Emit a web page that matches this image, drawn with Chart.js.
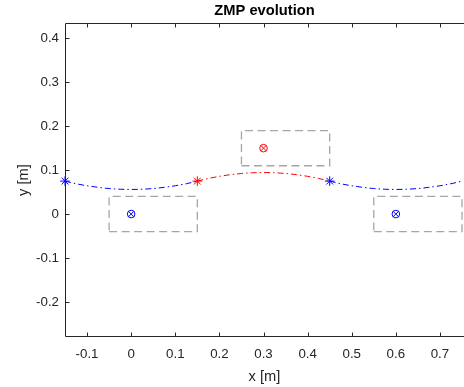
<!DOCTYPE html>
<html><head><meta charset="utf-8">
<script src="https://cdn.jsdelivr.net/npm/chart.js@4/dist/chart.umd.min.js"></script>
<style>html,body{margin:0;padding:0;background:#fff;}#wrap{width:464px;height:387px;position:relative;}</style>
</head><body><div id="wrap"><canvas id="c" width="464" height="387"></canvas></div>
<script>
// ---- data ----
const xTicks = [-0.1, 0, 0.1, 0.2, 0.3, 0.4, 0.5, 0.6, 0.7];
const xTickLabels = ['-0.1', '0', '0.1', '0.2', '0.3', '0.4', '0.5', '0.6', '0.7'];
const yTicks = [-0.2, -0.1, 0, 0.1, 0.2, 0.3, 0.4];
const yTickLabels = ['-0.2', '-0.1', '0', '0.1', '0.2', '0.3', '0.4'];

// footprint rectangles (dashed gray)
const rectX1 = [-0.05, 0.25, 0.55];
const rectX2 = [0.15, 0.45, 0.75];
const rectY1 = [-0.04, 0.11, -0.04];
const rectY2 = [0.04, 0.19, 0.04];

// footstep ZMP markers
const footX = [0, 0.3, 0.6];
const footY = [0, 0.15, 0];

// trajectory segments
const seg1X = [-0.15, -0.125, -0.1, -0.075, -0.05, -0.025, 0, 0.025, 0.05, 0.075, 0.1, 0.125, 0.15];
const seg1Y = [0.075, 0.069, 0.0644, 0.0608, 0.0581, 0.0565, 0.056, 0.0565, 0.0581, 0.0608, 0.0644, 0.069, 0.075];
const seg2X = [0.15, 0.175, 0.2, 0.225, 0.25, 0.275, 0.3, 0.325, 0.35, 0.375, 0.4, 0.425, 0.45];
const seg2Y = [0.075, 0.081, 0.0858, 0.0896, 0.0923, 0.094, 0.0945, 0.094, 0.0923, 0.0896, 0.0858, 0.081, 0.075];
const seg3X = [0.45, 0.475, 0.5, 0.525, 0.55, 0.575, 0.6, 0.625, 0.65, 0.675, 0.7, 0.725, 0.75];
const seg3Y = [0.075, 0.069, 0.0644, 0.0608, 0.0581, 0.0565, 0.056, 0.0565, 0.0581, 0.0608, 0.0644, 0.069, 0.075];

// switching points (stars)
const starX = [-0.15, 0.15, 0.45];
const starY = [0.075, 0.075, 0.075];

// ---- build ----
const pts = (xs, ys) => xs.map((x, i) => ({x: x, y: ys[i]}));
const BLUE = '#0000ff', RED = '#ff0000', GRAY = '#a6a6a6', AX = '#262626';
const FONT = '"Liberation Sans", Arial, Helvetica, sans-serif';

const datasets = [];
for (let i = 0; i < rectX1.length; i++) {
  datasets.push({
    data: pts([rectX1[i], rectX2[i], rectX2[i], rectX1[i], rectX1[i]],
              [rectY1[i], rectY1[i], rectY2[i], rectY2[i], rectY1[i]]),
    showLine: true, borderColor: GRAY, borderWidth: 1.3, borderDash: [8, 4.5],
    pointRadius: 0, fill: false, tension: 0, clip: 2
  });
}
const segStyle = (xs, ys, col) => ({
  data: pts(xs, ys), showLine: true, borderColor: col, borderWidth: 1,
  borderDash: [6, 3, 1.5, 3], pointRadius: 0, fill: false,
  cubicInterpolationMode: 'monotone'
});
datasets.push(segStyle(seg1X, seg1Y, BLUE));
datasets.push(segStyle(seg2X, seg2Y, RED));
datasets.push(segStyle(seg3X, seg3Y, BLUE));
const markColors = [BLUE, RED, BLUE];
['circle', 'crossRot'].forEach(ps => {
  datasets.push({
    data: pts(footX, footY), showLine: false, pointStyle: ps, pointRadius: 3.8,
    pointBorderColor: markColors, pointBackgroundColor: 'rgba(0,0,0,0)', pointBorderWidth: 1,
    clip: false
  });
});
datasets.push({
  data: pts(starX, starY), showLine: false, pointStyle: 'star', pointRadius: 4.8,
  pointBorderColor: markColors, pointBackgroundColor: 'rgba(0,0,0,0)', pointBorderWidth: 1,
  clip: false
});

const frame = {
  id: 'frame',
  afterDraw(chart) {
    const {ctx, chartArea: a, scales: {x, y}} = chart;
    ctx.save();
    ctx.strokeStyle = AX; ctx.lineWidth = 1;
    const L = Math.round(a.left) + 0.5, B = Math.round(a.bottom) - 0.5, T = Math.round(a.top) + 0.5;
    ctx.beginPath();
    ctx.moveTo(L, T); ctx.lineTo(a.right + 2, T);
    ctx.moveTo(L, T); ctx.lineTo(L, B);
    ctx.moveTo(L, B); ctx.lineTo(a.right + 2, B);
    xTicks.forEach(v => {
      const px = Math.round(x.getPixelForValue(v)) + 0.5;
      ctx.moveTo(px, B); ctx.lineTo(px, B - 4);
      ctx.moveTo(px, T); ctx.lineTo(px, T + 4);
    });
    yTicks.forEach(v => {
      const py = Math.round(y.getPixelForValue(v)) + 0.5;
      ctx.moveTo(L, py); ctx.lineTo(L + 4, py);
    });
    ctx.stroke();
    ctx.restore();
  }
};

const setTicks = (vals) => (scale) => { scale.ticks = vals.map(v => ({value: v})); };

new Chart(document.getElementById('c'), {
  type: 'scatter',
  data: {datasets: datasets},
  options: {
    responsive: false, animation: false, devicePixelRatio: 1,
    layout: {autoPadding: false, padding: {left: 0, right: 0, top: 0, bottom: 0}},
    plugins: {
      legend: {display: false}, tooltip: {enabled: false},
      title: {display: true, text: 'ZMP evolution', color: '#000', fullSize: false,
        font: {family: FONT, size: 14.7, weight: 'bold', lineHeight: 1},
        padding: {top: 4, bottom: 4.3}}
    },
    scales: {
      x: {
        type: 'linear', min: -0.15, max: 0.7545,
        afterBuildTicks: setTicks(xTicks),
        afterFit: (s) => { s.height = 50; s.paddingLeft = 0; s.paddingRight = 0; },
        grid: {display: false, drawTicks: false}, border: {display: false},
        ticks: {color: AX, padding: 9.5, maxRotation: 0, autoSkip: false,
          font: {family: FONT, size: 13.3},
          callback: (v, i) => xTickLabels[i]},
        title: {display: true, text: 'x [m]', color: AX,
          font: {family: FONT, size: 14.7, lineHeight: 1.2}, padding: {top: 0, bottom: 1.2}}
      },
      y: {
        type: 'linear', min: -0.28, max: 0.435,
        afterBuildTicks: setTicks(yTicks),
        afterFit: (s) => { s.width = 65; s.paddingTop = 0; s.paddingBottom = 0; },
        grid: {display: false, drawTicks: false}, border: {display: false},
        ticks: {color: AX, padding: 6, autoSkip: false,
          font: {family: FONT, size: 13.3},
          callback: (v, i) => yTickLabels[i]},
        title: {display: true, text: 'y [m]', color: AX,
          font: {family: FONT, size: 14.7, lineHeight: 1.2}, padding: {top: 14.7, bottom: 0}}
      }
    }
  },
  plugins: [frame]
});
</script>
</body></html>
